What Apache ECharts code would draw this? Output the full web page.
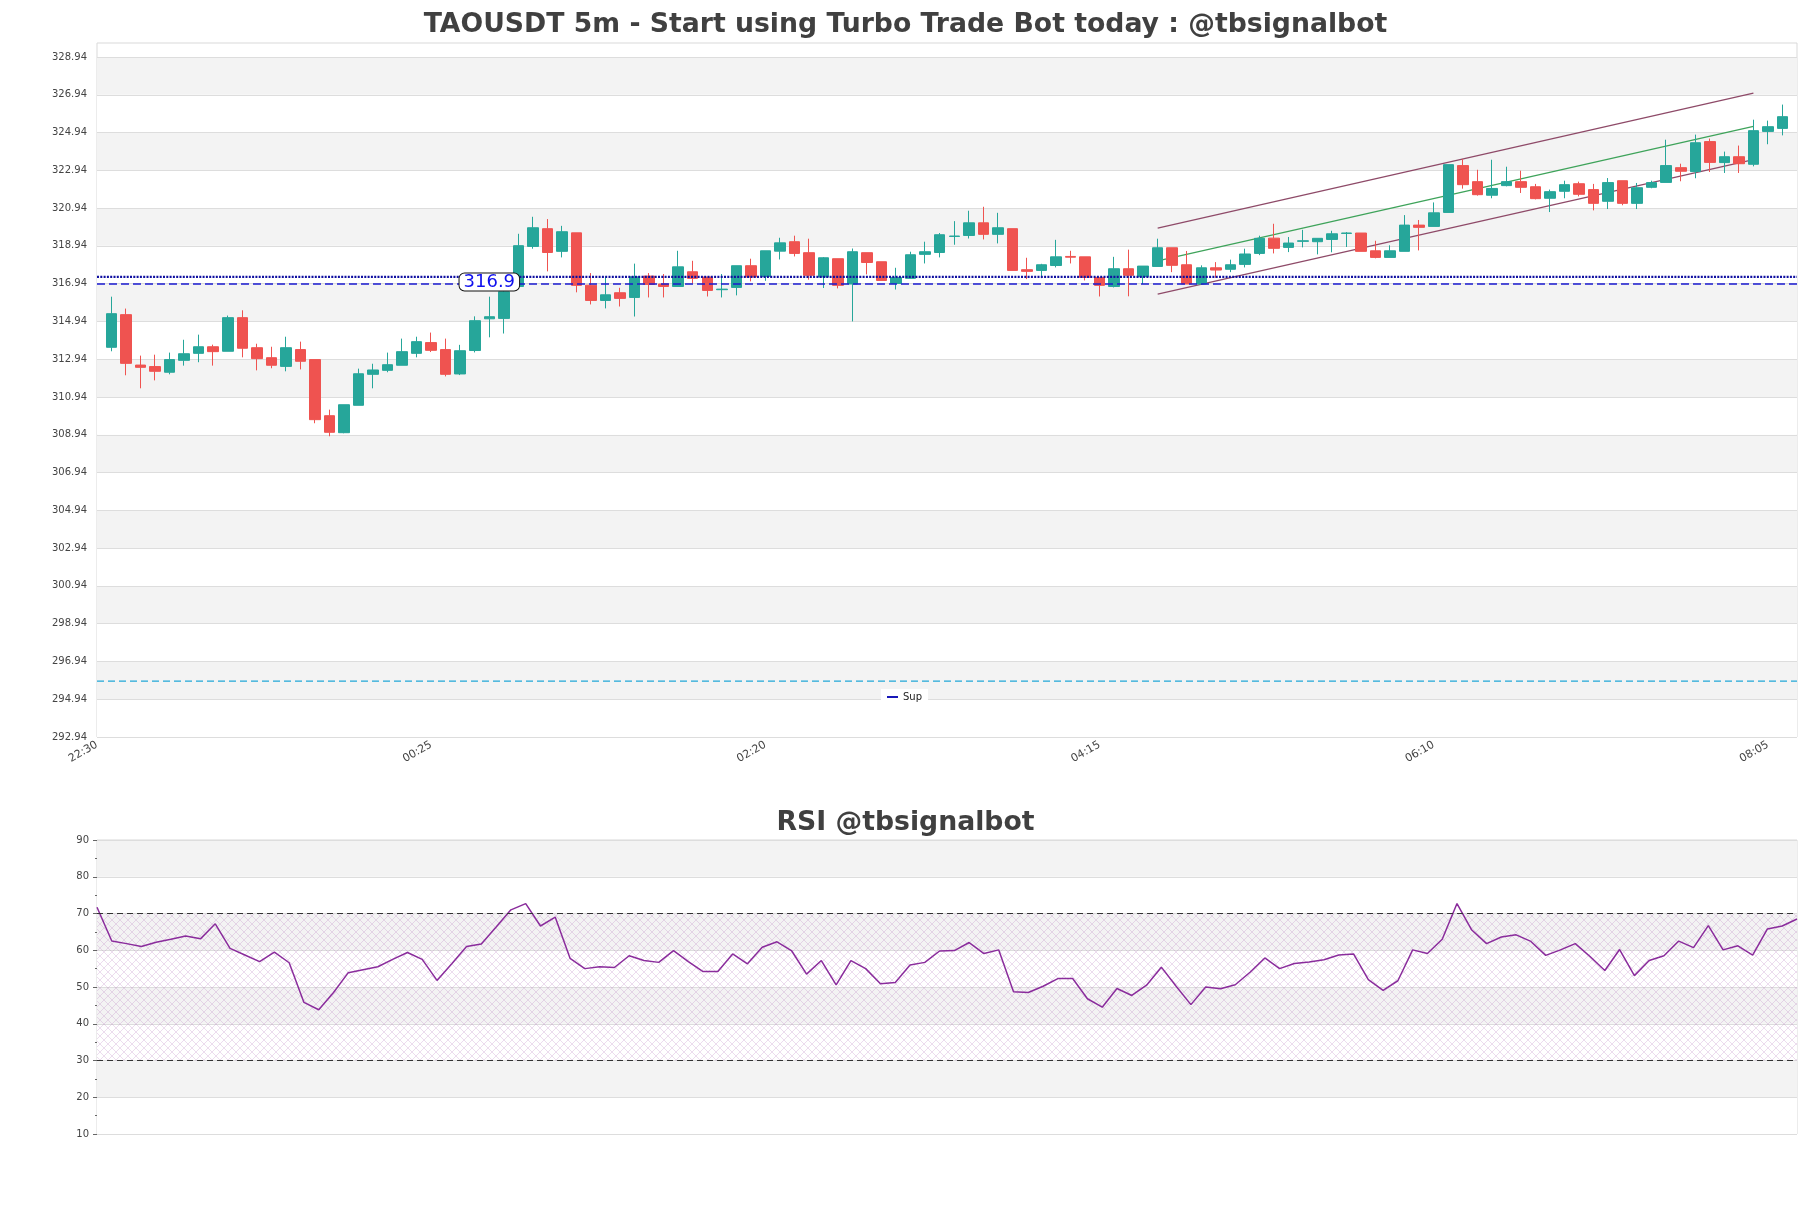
<!DOCTYPE html>
<html>
<head>
<meta charset="utf-8">
<script src="https://cdn.jsdelivr.net/npm/echarts@6/dist/echarts.min.js"></script>
<style>
html,body{margin:0;padding:0;background:#fff;}
#c{width:1811px;height:1208px;}
</style>
</head>
<body>
<div id="c"></div>
<script>
// ---- DATA ----
const startTime = '22:30';          // first (empty) category on the price axis
const stepMinutes = 5;
const categoryCount = 118;          // 22:30 ... 08:15 (candles 22:35 ... 08:10)

const opens = [313.57,315.30,312.63,312.55,312.25,312.88,313.25,313.60,313.36,315.14,313.55,313.02,312.56,313.45,312.92,309.95,309.05,310.50,312.14,312.35,312.62,313.25,313.82,313.45,312.16,313.40,315.08,315.10,316.79,318.91,319.85,318.65,319.63,316.86,316.05,316.46,316.21,317.34,316.92,316.79,317.57,317.29,316.62,316.74,317.89,317.32,318.66,319.16,318.58,317.29,318.26,316.92,318.58,318.10,316.95,317.22,318.49,318.59,319.44,319.49,320.16,319.55,319.85,317.68,317.64,317.90,318.38,318.36,317.27,316.79,317.73,317.31,317.85,318.84,317.94,316.92,317.78,317.70,317.96,318.54,319.35,318.86,319.18,319.16,319.28,319.60,319.62,318.68,318.33,318.65,320.04,319.97,320.71,323.19,322.34,321.62,322.13,322.34,322.07,321.46,321.83,322.23,321.92,321.30,322.39,321.19,322.04,322.30,323.08,322.87,324.46,323.35,323.66,323.26,325.00,325.16];
const highs = [316.25,315.62,313.13,313.18,313.29,313.97,314.24,313.71,315.25,315.53,313.76,313.60,314.13,313.87,312.92,310.27,310.53,312.44,312.70,313.29,314.03,314.13,314.35,314.03,313.70,315.21,316.25,316.97,319.58,320.48,320.36,320.00,319.63,317.50,317.32,316.72,318.00,317.50,317.45,318.68,318.15,317.29,317.45,317.89,318.26,318.68,319.37,319.48,319.32,318.35,318.26,318.80,318.58,318.10,317.78,318.63,319.16,319.62,320.25,320.80,321.01,320.69,319.85,318.31,317.99,319.26,318.68,318.36,317.27,318.36,318.74,317.87,319.32,318.84,318.67,317.91,318.08,318.21,318.79,319.48,320.11,319.41,319.79,319.34,319.74,319.67,319.62,319.21,318.97,320.57,320.31,321.24,323.24,323.54,322.97,323.50,323.13,322.92,322.22,321.92,322.39,322.34,322.22,322.53,322.39,322.27,322.39,324.56,323.29,324.83,324.62,323.93,324.25,325.62,325.57,326.42];
const lows = [313.36,312.09,311.40,311.82,312.14,312.60,312.78,312.60,313.36,313.04,312.35,312.46,312.30,312.40,309.55,308.86,309.02,310.50,311.40,312.25,312.62,313.04,313.32,312.03,312.10,313.30,314.10,314.30,316.70,318.79,317.59,318.33,316.48,315.84,315.63,315.73,315.20,316.21,316.21,316.79,316.95,316.26,316.21,316.32,317.06,317.09,318.22,318.38,317.15,316.71,316.69,314.94,317.43,317.11,316.63,317.22,318.01,318.33,319.00,319.33,319.28,319.07,317.64,317.18,317.23,317.80,318.01,317.11,316.26,316.74,316.27,316.92,317.85,317.55,316.92,316.92,317.25,317.55,317.80,318.45,318.54,318.61,318.86,318.49,318.60,318.88,318.65,318.28,318.33,318.65,318.70,319.97,320.71,321.97,321.60,321.46,322.09,321.74,321.40,320.73,321.46,321.56,320.82,320.89,321.09,320.89,321.99,322.30,322.36,322.52,322.85,322.80,322.80,323.15,324.32,324.79];
const closes = [315.35,312.72,312.51,312.30,312.92,313.23,313.60,313.34,315.14,313.52,312.97,312.62,313.55,312.83,309.74,309.07,310.53,312.17,312.37,312.65,313.34,313.87,313.41,312.14,313.39,314.98,315.19,316.51,318.95,319.90,318.59,319.69,316.85,316.05,316.35,316.16,317.30,316.90,316.79,317.83,317.22,316.58,316.65,317.89,317.29,318.68,319.10,318.54,317.38,318.31,316.85,318.63,318.06,317.11,317.27,318.47,318.63,319.53,319.46,320.16,319.55,319.90,317.64,317.59,317.94,318.36,318.34,317.27,316.85,317.73,317.38,317.87,318.84,317.91,316.92,317.78,317.66,317.94,318.51,319.34,318.81,319.09,319.21,319.34,319.58,319.62,318.65,318.33,318.68,320.04,319.92,320.69,323.24,322.18,321.65,321.98,322.34,322.04,321.44,321.81,322.18,321.67,321.19,322.29,321.19,322.02,322.29,323.19,322.89,324.40,323.36,323.66,323.29,325.04,325.25,325.78];

const rsiValues = [71.7,62.5,61.8,61.0,62.2,63.0,63.9,63.1,67.2,60.5,58.7,56.9,59.5,56.6,45.8,43.8,48.5,53.9,54.7,55.5,57.5,59.4,57.5,51.8,56.3,61.0,61.7,66.3,71.0,72.7,66.6,69.0,57.8,55.0,55.5,55.3,58.5,57.2,56.7,59.9,56.9,54.2,54.2,59.0,56.3,60.8,62.3,59.8,53.5,57.2,50.6,57.2,55.0,50.9,51.2,56.0,56.7,59.8,59.9,62.1,59.1,60.1,48.7,48.5,50.2,52.3,52.3,46.8,44.5,49.6,47.7,50.5,55.4,50.2,45.2,50.0,49.5,50.6,54.0,57.9,55.0,56.4,56.8,57.4,58.7,59.0,52.0,49.1,51.7,60.1,59.1,63.0,72.7,65.5,61.8,63.6,64.2,62.4,58.6,60.1,61.8,58.3,54.5,60.2,53.1,57.2,58.5,62.5,60.7,66.7,60.1,61.2,58.7,65.8,66.6,68.5];

const priceTicks = [292.94,294.94,296.94,298.94,300.94,302.94,304.94,306.94,308.94,310.94,312.94,314.94,316.94,318.94,320.94,322.94,324.94,326.94,328.94];
const priceMin = 292.94, priceMax = 329.68;

const supLevel = 316.92;      // dashed "Sup" line, labelled 316.9
const supLabel = '316.9';
const supLabelAt = 27;        // category index of the label
const dottedLevel = 317.30;
const lowSupLevel = 295.90;
// channel lines: [startCategory, startValue, endCategory, endValue]
const channelUpper = [73, 319.88, 114, 327.03];
const channelMid   = [73, 318.14, 114, 325.27];
const channelLower = [73, 316.39, 114, 323.50];
const rsiUpper = 70, rsiLower = 30;

// ---- BUILD ----
function timeLabels(start, n, step) {
  let [h, m] = start.split(':').map(Number);
  const out = [];
  let t = h * 60 + m;
  for (let i = 0; i < n; i++) {
    const tt = ((t + i * step) % 1440 + 1440) % 1440;
    out.push(String(Math.floor(tt / 60)).padStart(2, '0') + ':' + String(tt % 60).padStart(2, '0'));
  }
  return out;
}
const cats = timeLabels(startTime, categoryCount, stepMinutes);
const rsiCats = cats.slice(1, 1 + rsiValues.length);
const candleData = ['-'];
for (let i = 0; i < opens.length; i++) candleData.push([opens[i], closes[i], lows[i], highs[i]]);
while (candleData.length < categoryCount) candleData.push('-');
const lastCat = categoryCount - 1;

// hatch pattern for RSI band
const pc = document.createElement('canvas');
pc.width = 8; pc.height = 8;
const g = pc.getContext('2d');
g.strokeStyle = 'rgba(185,130,195,0.4)';
g.lineWidth = 0.7;
g.beginPath();
g.moveTo(0, 0); g.lineTo(8, 8);
g.moveTo(8, 0); g.lineTo(0, 8);
g.stroke();

const FONT = 'DejaVu Sans';
const chart = echarts.init(document.getElementById('c'), null, {renderer: 'canvas'});
const seg = (arr) => [[arr[0], arr[1]], [arr[2], arr[3]]];

chart.setOption({
  animation: false,
  backgroundColor: '#ffffff',
  textStyle: {fontFamily: FONT},
  title: [
    {text: 'TAOUSDT 5m - Start using Turbo Trade Bot today : @tbsignalbot', left: 'center', top: 12, padding: 0,
     textStyle: {fontFamily: FONT, fontSize: 26.7, fontWeight: 'bold', color: '#404040'}},
    {text: 'RSI @tbsignalbot', left: 'center', top: 810, padding: 0,
     textStyle: {fontFamily: FONT, fontSize: 26.7, fontWeight: 'bold', color: '#404040'}}
  ],
  legend: {
    data: ['Sup'], left: 881, top: 689, padding: [3, 6], backgroundColor: '#ffffff',
    itemWidth: 11, itemHeight: 2, icon: 'rect', itemGap: 5,
    textStyle: {fontFamily: FONT, fontSize: 10, color: '#222'}
  },
  grid: [
    {left: 97, right: 14, top: 43, height: 694, show: true, borderColor: '#d9d9d9', borderWidth: 1, backgroundColor: 'transparent'},
    {left: 97, right: 14, top: 840, height: 294, show: true, borderColor: '#d9d9d9', borderWidth: 1, backgroundColor: 'transparent'}
  ],
  xAxis: [
    {type: 'category', gridIndex: 0, data: cats, boundaryGap: false,
     axisLine: {show: false}, axisTick: {show: false}, splitLine: {show: false},
     axisLabel: {interval: 22, rotate: 30, fontSize: 11, color: '#444', margin: 7, fontFamily: FONT}},
    {type: 'category', gridIndex: 1, data: rsiCats, boundaryGap: false,
     axisLine: {show: false}, axisTick: {show: false}, axisLabel: {show: false}, splitLine: {show: false}}
  ],
  yAxis: [
    {type: 'value', gridIndex: 0, min: priceMin, max: priceMax, scale: true,
     axisLine: {show: false},
     axisTick: {show: false, customValues: priceTicks},
     axisLabel: {customValues: priceTicks, fontSize: 10, color: '#444', margin: 10, fontFamily: FONT,
                 formatter: v => Number(v).toFixed(2)},
     splitLine: {show: true, lineStyle: {color: '#dddddd', width: 1}},
     splitArea: {show: true, areaStyle: {color: ['#ffffff', '#f3f3f3']}}},
    {type: 'value', gridIndex: 1, min: 10, max: 90, interval: 10,
     axisLine: {show: false},
     axisTick: {show: true, length: 4, lineStyle: {color: '#666'}},
     minorTick: {show: true, splitNumber: 2, length: 2, lineStyle: {color: '#666'}},
     axisLabel: {fontSize: 10, color: '#444', margin: 8, fontFamily: FONT},
     splitLine: {show: true, lineStyle: {color: '#dddddd', width: 1}},
     splitArea: {show: true, areaStyle: {color: ['#ffffff', '#f3f3f3']}}}
  ],
  series: [
    {type: 'line', name: 'chUpper', xAxisIndex: 0, yAxisIndex: 0, data: seg(channelUpper), symbol: 'none', z: 2,
     lineStyle: {color: '#8e4a68', width: 1.3}, silent: true},
    {type: 'line', name: 'chMid', xAxisIndex: 0, yAxisIndex: 0, data: seg(channelMid), symbol: 'none', z: 2,
     lineStyle: {color: '#3ea35a', width: 1.3}, silent: true},
    {type: 'line', name: 'chLower', xAxisIndex: 0, yAxisIndex: 0, data: seg(channelLower), symbol: 'none', z: 2,
     lineStyle: {color: '#8e4a68', width: 1.3}, silent: true},
    {type: 'candlestick', name: 'price', xAxisIndex: 0, yAxisIndex: 0, data: candleData, barWidth: 11, z: 3,
     itemStyle: {color: '#26a69a', color0: '#ef5350', borderColor: '#26a69a', borderColor0: '#ef5350', borderWidth: 1}},
    {type: 'line', name: 'dotted', xAxisIndex: 0, yAxisIndex: 0, data: [[0, dottedLevel], [lastCat, dottedLevel]],
     symbol: 'none', z: 4, lineStyle: {color: '#0f0fa0', width: 2.2, type: [2, 1.3]}, silent: true},
    {type: 'line', name: 'Sup', xAxisIndex: 0, yAxisIndex: 0, data: [[0, supLevel], [lastCat, supLevel]],
     symbol: 'none', z: 4, color: '#1818b8', lineStyle: {color: '#1a1ad0', width: 1.4, type: [8, 4]}, silent: true,
     markPoint: {symbol: 'rect', symbolSize: 0, z: 10, silent: true,
       data: [{coord: [supLabelAt, supLevel], value: supLabel}],
       label: {show: true, position: 'inside', offset: [0, -2], formatter: supLabel, fontFamily: FONT, fontSize: 18,
               color: '#1010ee', backgroundColor: '#ffffff', borderColor: '#111', borderWidth: 1,
               borderRadius: 5, padding: [0, 4, -1, 4], lineHeight: 18}}},
    {type: 'line', name: 'lowSup', xAxisIndex: 0, yAxisIndex: 0, data: [[0, lowSupLevel], [lastCat, lowSupLevel]],
     symbol: 'none', z: 4, lineStyle: {color: '#22a8d8', width: 1.2, type: [7, 4]}, silent: true},
    {type: 'line', name: 'RSI', xAxisIndex: 1, yAxisIndex: 1, data: rsiValues, symbol: 'none', z: 4,
     lineStyle: {color: '#8a2c9c', width: 1.5}, silent: true,
     markLine: {symbol: 'none', silent: true, label: {show: false},
       lineStyle: {color: '#333', type: [6, 4], width: 1.1},
       data: [{yAxis: rsiUpper}, {yAxis: rsiLower}]},
     markArea: {silent: true, itemStyle: {color: {image: pc, repeat: 'repeat'}},
       data: [[{yAxis: rsiLower}, {yAxis: rsiUpper}]]}}
  ]
});
</script>
</body>
</html>
